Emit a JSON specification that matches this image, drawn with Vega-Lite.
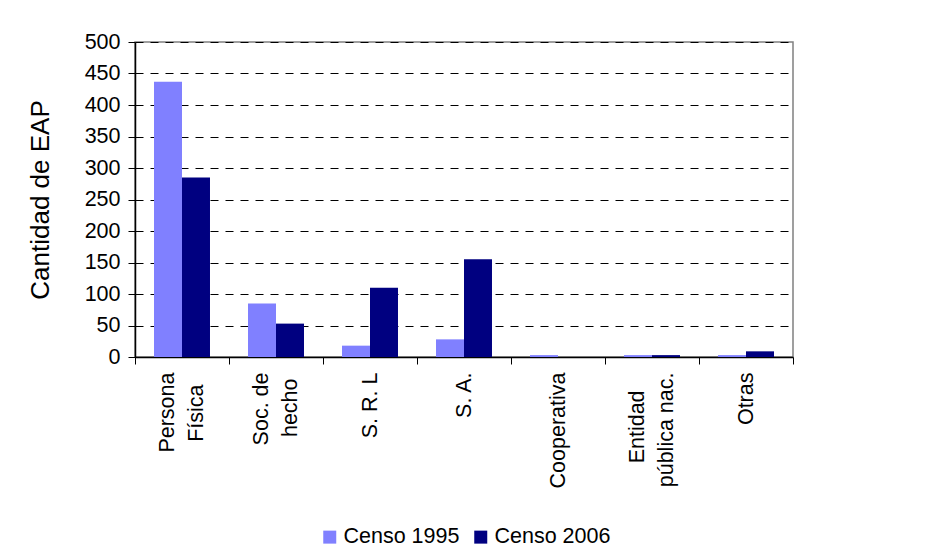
{
  "$schema": "https://vega.github.io/schema/vega-lite/v6.json",
  "autosize": "none",
  "width": 658,
  "height": 315,
  "padding": {"left": 135, "top": 42, "right": 147, "bottom": 195},
  "background": "white",
  "config": {
    "font": "Liberation Sans",
    "view": {"stroke": "#808080", "strokeWidth": 1.5}
  },
  "data": {
    "values": [
      {"categoria": "Persona|Física", "censo": "Censo 1995", "valor": 437},
      {"categoria": "Persona|Física", "censo": "Censo 2006", "valor": 285},
      {"categoria": "Soc. de|hecho", "censo": "Censo 1995", "valor": 85},
      {"categoria": "Soc. de|hecho", "censo": "Censo 2006", "valor": 53},
      {"categoria": "S. R. L", "censo": "Censo 1995", "valor": 18},
      {"categoria": "S. R. L", "censo": "Censo 2006", "valor": 110},
      {"categoria": "S. A.", "censo": "Censo 1995", "valor": 28},
      {"categoria": "S. A.", "censo": "Censo 2006", "valor": 155},
      {"categoria": "Cooperativa", "censo": "Censo 1995", "valor": 3},
      {"categoria": "Cooperativa", "censo": "Censo 2006", "valor": 0},
      {"categoria": "Entidad|pública nac.", "censo": "Censo 1995", "valor": 3},
      {"categoria": "Entidad|pública nac.", "censo": "Censo 2006", "valor": 3},
      {"categoria": "Otras", "censo": "Censo 1995", "valor": 3},
      {"categoria": "Otras", "censo": "Censo 2006", "valor": 9}
    ]
  },
  "mark": {"type": "bar"},
  "encoding": {
    "x": {
      "field": "categoria",
      "type": "nominal",
      "sort": null,
      "scale": {"paddingInner": 0, "paddingOuter": 0},
      "axis": {
        "title": null,
        "tickBand": "extent",
        "labelAngle": 270,
        "labelAlign": "right",
        "labelBaseline": "middle",
        "labelExpr": "datum.label == 'Persona|Física' ? ['Persona', '\u00a0\u200b', 'Física\u00a0\u00a0\u200b'] : datum.label == 'Soc. de|hecho' ? ['Soc. de', '\u00a0\u200b', 'hecho\u00a0\u200b'] : datum.label == 'Entidad|pública nac.' ? ['Entidad\u00a0\u00a0\u00a0\u200b', '\u00a0\u200b', 'pública nac.'] : ['\u00a0\u200b', datum.label]",
        "labelOffset": -14.5,
        "labelFontSize": 21.5,
        "labelLineHeight": 14.5,
        "labelColor": "black",
        "labelPadding": 8,
        "tickSize": 7,
        "tickColor": "black",
        "domainColor": "black",
        "domainWidth": 1.5,
        "labelFlush": false,
        "labelOverlap": false
      }
    },
    "xOffset": {
      "field": "censo",
      "type": "nominal",
      "scale": {"paddingInner": 0, "paddingOuter": 0.679}
    },
    "y": {
      "field": "valor",
      "type": "quantitative",
      "scale": {"domain": [0, 500], "nice": false},
      "axis": {
        "title": "Cantidad de EAP",
        "titleFontSize": 26,
        "titleFontWeight": "normal",
        "titleColor": "black",
        "titlePadding": 31,
        "values": [0, 50, 100, 150, 200, 250, 300, 350, 400, 450, 500],
        "labelFontSize": 21.5,
        "labelColor": "black",
        "labelPadding": 8,
        "tickSize": 7,
        "tickColor": "black",
        "domainColor": "black",
        "domainWidth": 1.5,
        "grid": true,
        "gridColor": "black",
        "gridDash": [8, 7],
        "gridOpacity": 1,
        "gridWidth": 1
      }
    },
    "color": {
      "field": "censo",
      "type": "nominal",
      "scale": {"domain": ["Censo 1995", "Censo 2006"], "range": ["#8080FF", "#000080"]},
      "legend": {
        "title": null,
        "orient": "none",
        "direction": "horizontal",
        "legendX": 184,
        "legendY": 484,
        "symbolType": "square",
        "symbolSize": 169,
        "symbolStrokeWidth": 0,
        "labelFontSize": 21.5,
        "labelColor": "black",
        "labelOffset": 3,
        "columnPadding": 10
      }
    }
  }
}
